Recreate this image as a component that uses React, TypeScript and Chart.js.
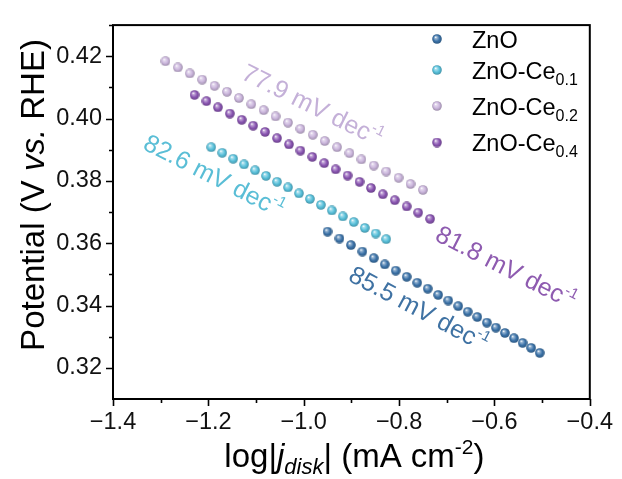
import React, { useEffect, useRef } from 'react';
import { Chart, registerables } from 'chart.js';

Chart.register(...registerables);

// Tafel data: log|j_disk| (mA cm^-2) vs potential (V vs. RHE)
const znoX = [-0.950, -0.925, -0.901, -0.877, -0.853, -0.830, -0.807, -0.784, -0.762, -0.740, -0.718, -0.697, -0.676, -0.656, -0.636, -0.616, -0.597, -0.578, -0.559, -0.541, -0.523, -0.505];
const znoY = [0.3637, 0.3615, 0.3594, 0.3573, 0.3552, 0.3532, 0.3512, 0.3492, 0.3473, 0.3454, 0.3434, 0.3416, 0.3398, 0.3380, 0.3363, 0.3345, 0.3329, 0.3312, 0.3295, 0.3280, 0.3264, 0.3248];

const ce01X = [-1.194, -1.171, -1.148, -1.125, -1.102, -1.079, -1.056, -1.033, -1.010, -0.987, -0.964, -0.941, -0.918, -0.895, -0.872, -0.849, -0.827];
const ce01Y = [0.3908, 0.3890, 0.3871, 0.3853, 0.3834, 0.3816, 0.3797, 0.3779, 0.3760, 0.3742, 0.3723, 0.3705, 0.3686, 0.3668, 0.3649, 0.3631, 0.3613];

const ce02X = [-1.290, -1.264, -1.239, -1.213, -1.187, -1.161, -1.136, -1.110, -1.084, -1.059, -1.033, -1.007, -0.981, -0.956, -0.930, -0.904, -0.879, -0.853, -0.827, -0.801, -0.776, -0.750];
const ce02Y = [0.4184, 0.4164, 0.4145, 0.4125, 0.4105, 0.4086, 0.4066, 0.4046, 0.4027, 0.4007, 0.3987, 0.3967, 0.3948, 0.3928, 0.3908, 0.3889, 0.3869, 0.3849, 0.3830, 0.3810, 0.3790, 0.3771];

const ce04X = [-1.229, -1.204, -1.180, -1.155, -1.130, -1.106, -1.081, -1.056, -1.031, -1.007, -0.982, -0.957, -0.933, -0.908, -0.883, -0.859, -0.834, -0.809, -0.784, -0.760, -0.735];
const ce04Y = [0.4076, 0.4056, 0.4036, 0.4016, 0.3996, 0.3977, 0.3957, 0.3937, 0.3917, 0.3897, 0.3877, 0.3857, 0.3837, 0.3817, 0.3797, 0.3777, 0.3757, 0.3738, 0.3718, 0.3698, 0.3678];

const seriesNames = ['ZnO', 'ZnO-Ce0.1', 'ZnO-Ce0.2', 'ZnO-Ce0.4'];
const legendMain = ['ZnO', 'ZnO-Ce', 'ZnO-Ce', 'ZnO-Ce'];
const legendSub = ['', '0.1', '0.2', '0.4'];
const seriesColors = ['#3b72a8', '#58c0da', '#cab5dc', '#8a55b2'];
const seriesX = [znoX, ce01X, ce02X, ce04X];
const seriesY = [znoY, ce01Y, ce02Y, ce04Y];

// Tafel slope annotations
const slopeText = ['85.5', '82.6', '77.9', '81.8'];
const slopeColors = ['#3f72a3', '#5abed6', '#c4b0d8', '#8e5bb0'];
const slopeAtX = [-0.758, -1.1875, -0.981, -0.575];
const slopeAtY = [0.3392, 0.3818, 0.4045, 0.3525];
const slopeAngleDeg = [28, 27, 26.5, 27];

const xMin = -1.4;
const xMax = -0.4;
const yMin = 0.31;
const yMax = 0.43;

const FONT = "'Liberation Sans', Arial, Helvetica, sans-serif";

function hexToRgb(h: string): number[] {
  const v = parseInt(h.slice(1), 16);
  return [(v >> 16) & 255, (v >> 8) & 255, v & 255];
}

function mix(a: string, b: string, t: number): string {
  const ca = hexToRgb(a);
  const cb = hexToRgb(b);
  const c = ca.map((v, i) => Math.round(v + (cb[i] - v) * t));
  return `rgb(${c[0]},${c[1]},${c[2]})`;
}

// Small shaded ball used as point marker
function makeSphere(color: string, size: number): HTMLCanvasElement {
  const c = document.createElement('canvas');
  c.width = size;
  c.height = size;
  const g = c.getContext('2d')!;
  const r = size / 2;
  const grad = g.createRadialGradient(r * 0.72, r * 0.62, r * 0.05, r, r, r);
  grad.addColorStop(0, '#ffffff');
  grad.addColorStop(0.18, mix(color, '#ffffff', 0.5));
  grad.addColorStop(0.6, color);
  grad.addColorStop(1, mix(color, '#000000', 0.25));
  g.fillStyle = grad;
  g.beginPath();
  g.arc(r, r, r - 0.2, 0, Math.PI * 2);
  g.fill();
  return c;
}

type Seg = { t: string; size: number; italic?: boolean; dy?: number };

function segWidth(ctx: CanvasRenderingContext2D, segs: Seg[]): number {
  let w = 0;
  for (const s of segs) {
    ctx.font = `${s.italic ? 'italic ' : ''}${s.size}px ${FONT}`;
    w += ctx.measureText(s.t).width;
  }
  return w;
}

function drawSegs(ctx: CanvasRenderingContext2D, segs: Seg[], x: number, y: number) {
  let cx = x;
  for (const s of segs) {
    ctx.font = `${s.italic ? 'italic ' : ''}${s.size}px ${FONT}`;
    ctx.fillText(s.t, cx, y + (s.dy || 0));
    cx += ctx.measureText(s.t).width;
  }
}

export default function App() {
  const canvasRef = useRef<HTMLCanvasElement | null>(null);

  useEffect(() => {
    const canvas = canvasRef.current;
    if (!canvas) return;

    const spheres = seriesColors.map((c) => makeSphere(c, 10));

    const decor = {
      id: 'tafelDecor',
      afterDraw(chart: any) {
        const ctx: CanvasRenderingContext2D = chart.ctx;
        const { left, right, top, bottom } = chart.chartArea;
        const xs = chart.scales.x;
        const ys = chart.scales.y;
        ctx.save();

        // frame
        ctx.strokeStyle = '#000';
        ctx.lineWidth = 2;
        ctx.strokeRect(left, top, right - left, bottom - top);

        // tick marks (outward, minor shorter)
        ctx.lineWidth = 1.6;
        ctx.beginPath();
        xs.ticks.forEach((t: any) => {
          const px = Math.round(xs.getPixelForValue(t.value)) + 0.5;
          const major = Math.round(t.value * 10) % 2 === 0;
          ctx.moveTo(px, bottom);
          ctx.lineTo(px, bottom + (major ? 7 : 4));
        });
        ys.ticks.forEach((t: any) => {
          const py = Math.round(ys.getPixelForValue(t.value)) + 0.5;
          const major = Math.round(t.value * 100) % 2 === 0;
          if (Math.abs(t.value - yMin) < 1e-9) return;
          ctx.moveTo(left, py);
          ctx.lineTo(left - (major ? 7 : 4), py);
        });
        ctx.stroke();

        // axis titles
        ctx.fillStyle = '#000';
        ctx.textBaseline = 'alphabetic';
        const xTitle: Seg[] = [
          { t: 'log|', size: 33 },
          { t: 'j', size: 33, italic: true },
          { t: 'disk', size: 22, italic: true, dy: 7 },
          { t: '| (mA cm', size: 33 },
          { t: '-2', size: 21, dy: -13 },
          { t: ')', size: 33 },
        ];
        const xw = segWidth(ctx, xTitle);
        drawSegs(ctx, xTitle, (left + right) / 2 - xw / 2 + 3, 467);

        const yTitle: Seg[] = [
          { t: 'Potential (V ', size: 33 },
          { t: 'vs.', size: 33, italic: true },
          { t: ' RHE)', size: 33 },
        ];
        const yw = segWidth(ctx, yTitle);
        ctx.save();
        ctx.translate(44, 195);
        ctx.rotate(-Math.PI / 2);
        drawSegs(ctx, yTitle, -yw / 2, 0);
        ctx.restore();

        // legend
        const legendRows = [39, 70, 106, 142.5];
        legendRows.forEach((ry, i) => {
          ctx.drawImage(spheres[i], 437 - 5, ry - 5, 10, 10);
          ctx.fillStyle = '#000';
          const segs: Seg[] = [{ t: legendMain[i], size: 23.5 }];
          if (legendSub[i]) segs.push({ t: legendSub[i], size: 16, dy: 6 });
          drawSegs(ctx, segs, 472, ry + 8.5);
        });

        // slope annotations
        slopeText.forEach((s, i) => {
          const px = xs.getPixelForValue(slopeAtX[i]);
          const py = ys.getPixelForValue(slopeAtY[i]);
          const segs: Seg[] = [
            { t: `${s} mV dec`, size: 25 },
            { t: '-1', size: 15, dy: -11 },
          ];
          const w = segWidth(ctx, segs);
          ctx.save();
          ctx.translate(px, py);
          ctx.rotate((slopeAngleDeg[i] * Math.PI) / 180);
          ctx.fillStyle = slopeColors[i];
          drawSegs(ctx, segs, -w / 2, 9);
          ctx.restore();
        });

        ctx.restore();
      },
    };

    const chart = new Chart(canvas, {
      type: 'scatter',
      data: {
        datasets: seriesNames.map((name, i) => ({
          label: name,
          data: seriesX[i].map((x, k) => ({ x, y: seriesY[i][k] })),
          pointStyle: spheres[i] as any,
          pointRadius: 5,
          backgroundColor: seriesColors[i],
          borderColor: seriesColors[i],
          showLine: false,
        })),
      },
      options: {
        animation: false,
        responsive: false,
        maintainAspectRatio: false,
        layout: { padding: { left: 0, top: 13, right: 29, bottom: 0 } },
        plugins: {
          legend: { display: false },
          tooltip: { enabled: false },
        },
        scales: {
          x: {
            type: 'linear',
            position: 'bottom',
            min: xMin,
            max: xMax,
            grid: { display: false, drawTicks: false },
            border: { display: false },
            ticks: {
              stepSize: 0.1,
              autoSkip: false,
              maxRotation: 0,
              padding: 9,
              color: '#111',
              font: { family: FONT, size: 23.5 },
              callback: (v: any) => {
                const n = Math.round(Number(v) * 10);
                if (n % 2 !== 0) return '';
                return (n / 10).toFixed(1).replace('-', '\u2212');
              },
            },
            afterFit: (s: any) => {
              s.height = 80;
            },
          },
          y: {
            type: 'linear',
            min: yMin,
            max: yMax,
            grid: { display: false, drawTicks: false },
            border: { display: false },
            ticks: {
              stepSize: 0.01,
              autoSkip: false,
              padding: 11,
              color: '#111',
              font: { family: FONT, size: 23.5 },
              callback: (v: any) => {
                const n = Math.round(Number(v) * 100);
                if (n % 2 !== 0) return '';
                return (n / 100).toFixed(2);
              },
            },
            afterFit: (s: any) => {
              s.width = 113;
            },
          },
        },
      },
      plugins: [decor],
    });

    return () => {
      chart.destroy();
    };
  }, []);

  return (
    <div style={{ position: 'fixed', left: 0, top: 0, width: 622, height: 479, background: '#fff' }}>
      <canvas ref={canvasRef} width={622} height={479} style={{ display: 'block' }} />
    </div>
  );
}
